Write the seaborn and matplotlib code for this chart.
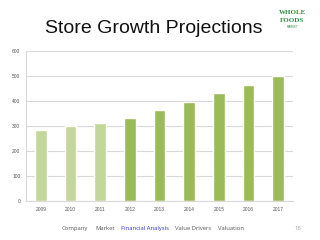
import pandas as pd
import matplotlib.pyplot as plt
import seaborn as sns

# Datos
years = ["2009", "2010", "2011", "2012", "2013", "2014", "2015", "2016", "2017"]
stores = [284, 300, 311, 333, 364, 397, 431, 465, 500]
actual_color = "#c3d69b"
proj_color = "#9bbb59"
bar_colors = [actual_color] * 3 + [proj_color] * 6
y_ticks = [0, 100, 200, 300, 400, 500, 600]
footer_items = ["Company", "Market", "Financial Analysis", "Value Drivers", "Valuation"]
footer_x = [0.234, 0.328, 0.453, 0.603, 0.722]

data = pd.DataFrame({"Year": years, "Stores": stores})

sns.set_style("white")
plt.rcParams["font.family"] = ["Liberation Sans", "DejaVu Sans"]

fig = plt.figure(figsize=(3.2, 2.4), dpi=100)
ax = fig.add_axes([26 / 320, 1 - 201 / 240, 267 / 320, 150 / 240])

sns.barplot(x="Year", y="Stores", hue="Year", data=data, palette=bar_colors,
            legend=False, width=0.4, ax=ax, saturation=1)

ax.set_ylim(0, 600)
ax.set_yticks(y_ticks)
ax.set_xlim(-0.5, len(years) - 0.5)
ax.set_xlabel("")
ax.set_ylabel("")
ax.tick_params(axis="both", labelsize=3.5, colors="#555555", length=0, pad=4)
ax.yaxis.grid(True, color="#d9d9d9", linewidth=0.8)
ax.set_axisbelow(True)
for side in ["top", "right"]:
    ax.spines[side].set_visible(False)
ax.spines["left"].set_color("#d9d9d9")
ax.spines["bottom"].set_color("#d9d9d9")

fig.text(0.48, 0.88, "Store Growth Projections", ha="center", va="center",
         fontsize=14, color="#111111")

# logo
fig.text(0.913, 0.95, "WHOLE", ha="center", va="center", fontsize=5,
         family="Liberation Serif", color="#2e8b3a", weight="bold")
fig.text(0.913, 0.915, "FOODS", ha="center", va="center", fontsize=5,
         family="Liberation Serif", color="#2e8b3a", weight="bold")
fig.text(0.913, 0.888, "MARKET", ha="center", va="center", fontsize=2,
         color="#2e8b3a")

for label, x in zip(footer_items, footer_x):
    col = "#3333cc" if label == "Financial Analysis" else "#555555"
    fig.text(x, 0.046, label, ha="center", va="center", fontsize=4.2,
             family="Open Sans", color=col)
fig.text(0.931, 0.046, "16", ha="center", va="center", fontsize=4.2,
         family="Open Sans", color="#999999")

fig.savefig("out.png", dpi=100)
